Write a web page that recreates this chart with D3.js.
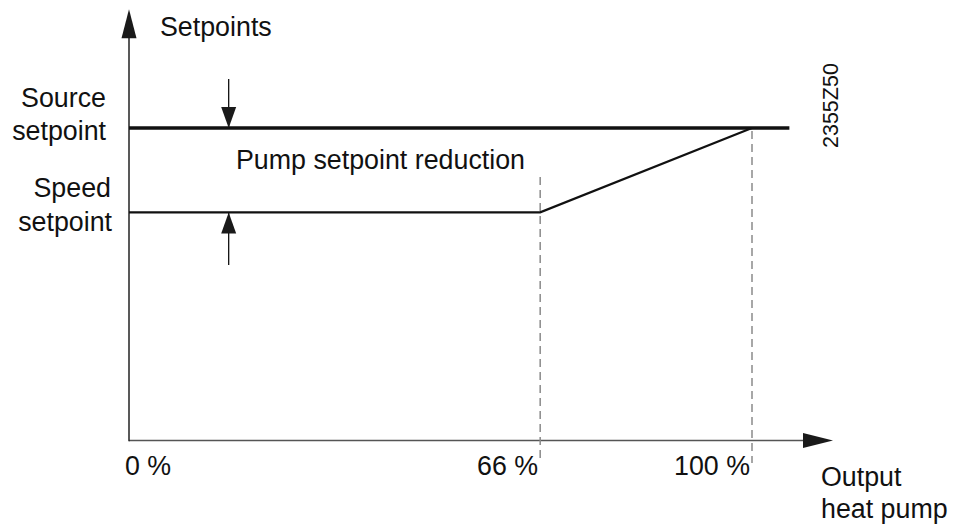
<!DOCTYPE html>
<html lang="en">
<head>
<meta charset="UTF-8">
<script src="https://d3js.org/d3.v7.min.js"></script>
<style>
    body { margin: 0; background: #fff; }
    svg { display: block; }
    .lbl { font: 26.8px "Liberation Sans", Arial, sans-serif; fill: #111; }
</style>
</head>
<body>
<div id="chart"></div>
<script>
// Data
const tickValues = [0, 66, 100];
const tickLabels = ["0 %", "66 %", "100 %"];
const sourceSetpoint = [[0, 100], [106, 100]];
const speedSetpoint = [[0, 73], [66, 73], [100, 100]];
const reductionAt = 16;          // x position (%) of the dimension arrows
const xAxisEnd = 113;            // x-axis arrow tip
const yAxisEnd = 138;            // y-axis arrow tip

const width = 958, height = 525;

const svg = d3.select("#chart").append("svg")
    .attr("width", width)
    .attr("height", height);

// Scales
const x = d3.scaleLinear().domain([0, 100]).range([129, 752]);
const y = d3.scaleLinear().domain([0, 100]).range([440.5, 128]);

const line = d3.line().x(d => x(d[0])).y(d => y(d[1]));

// arrow head helper (tip at tx,ty, pointing in direction dx,dy)
function head(tx, ty, dx, dy, len = 29, half = 7.5) {
    const bx = tx - dx * len, by = ty - dy * len;
    const px = -dy * half, py = dx * half;
    return `M${tx},${ty}L${bx + px},${by + py}L${bx - px},${by - py}Z`;
}

// Axes
const x0 = x(0), y0 = y(0);
const xTip = x(xAxisEnd), yTip = y(yAxisEnd);

svg.append("line")
    .attr("x1", x0).attr("y1", y0)
    .attr("x2", xTip - 25).attr("y2", y0)
    .attr("stroke", "#555").attr("stroke-width", 1.5);
svg.append("path").attr("d", head(xTip, y0, 1, 0, 30)).attr("fill", "#1a1a1a");

svg.append("line")
    .attr("x1", x0).attr("y1", y0 + 0.75)
    .attr("x2", x0).attr("y2", yTip + 25)
    .attr("stroke", "#222").attr("stroke-width", 1.5);
svg.append("path").attr("d", head(x0, yTip, 0, -1, 29)).attr("fill", "#1a1a1a");

// Dashed guides at 66 % and 100 %
svg.append("line")
    .attr("x1", x(66)).attr("x2", x(66))
    .attr("y1", 177).attr("y2", 463)
    .attr("stroke", "#8a8a8a").attr("stroke-width", 1.5)
    .attr("stroke-dasharray", "8,5");
svg.append("line")
    .attr("x1", x(100)).attr("x2", x(100))
    .attr("y1", y(100) + 3).attr("y2", 463)
    .attr("stroke", "#8a8a8a").attr("stroke-width", 1.5)
    .attr("stroke-dasharray", "8,5");

// Setpoint lines
svg.append("path")
    .datum(sourceSetpoint)
    .attr("d", line)
    .attr("fill", "none")
    .attr("stroke", "#111")
    .attr("stroke-width", 3.5);

svg.append("path")
    .datum(speedSetpoint)
    .attr("d", line)
    .attr("fill", "none")
    .attr("stroke", "#111")
    .attr("stroke-width", 2.2);

// Dimension arrows (pump setpoint reduction)
const ax = x(reductionAt);
svg.append("line")
    .attr("x1", ax).attr("x2", ax)
    .attr("y1", 79).attr("y2", y(100))
    .attr("stroke", "#111").attr("stroke-width", 1.3);
svg.append("path").attr("d", head(ax, y(100), 0, 1, 21)).attr("fill", "#1a1a1a");

svg.append("line")
    .attr("x1", ax).attr("x2", ax)
    .attr("y1", y(73)).attr("y2", 265)
    .attr("stroke", "#111").attr("stroke-width", 1.3);
svg.append("path").attr("d", head(ax, y(73), 0, -1, 21)).attr("fill", "#1a1a1a");

// Texts
const text = (tx, ty, s, anchor = "start") =>
    svg.append("text").attr("class", "lbl")
        .attr("x", tx).attr("y", ty)
        .attr("text-anchor", anchor)
        .text(s);

text(160, 36, "Setpoints");
text(106, 107, "Source", "end");
text(106, 140, "setpoint", "end");
text(111, 197, "Speed", "end");
text(112, 231, "setpoint", "end");
text(236, 169, "Pump setpoint reduction");

tickValues.forEach((v, i) => {
    if (i === 0) text(x(v) - 4, 475, tickLabels[i], "start");
    else text(x(v) - 2, 475, tickLabels[i], "end");
});

text(821, 486, "Output");
text(821, 518, "heat pump");

svg.append("text")
    .attr("transform", "translate(838,148) rotate(-90)")
    .style("font", '21.5px "Liberation Sans", Arial, sans-serif')
    .attr("fill", "#111")
    .text("2355Z50");
</script>
</body>
</html>
